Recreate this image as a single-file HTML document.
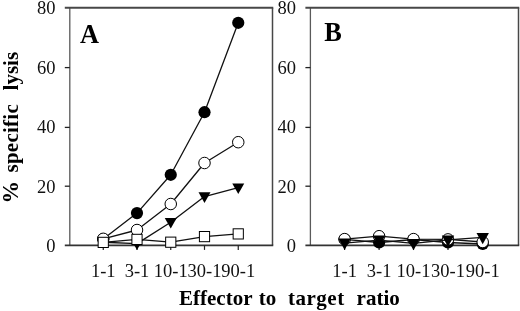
<!DOCTYPE html><html><head><meta charset="utf-8"><style>html,body{margin:0;padding:0;background:#fff;}svg{display:block;}</style></head><body>
<svg width="520" height="311" viewBox="0 0 520 311">
<rect width="520" height="311" fill="#fff"/>
<g fill="none">
<line x1="69.8" y1="7.7" x2="69.8" y2="245.3" stroke="#5a5a5a" stroke-width="1.3"/>
<line x1="272.5" y1="7.7" x2="272.5" y2="245.3" stroke="#474747" stroke-width="1.5"/>
<line x1="64.8" y1="7.7" x2="273.25" y2="7.7" stroke="#474747" stroke-width="1.9"/>
<line x1="64.8" y1="245.3" x2="273.25" y2="245.3" stroke="#333" stroke-width="1.7"/>
<line x1="64.8" y1="186.20" x2="69.8" y2="186.20" stroke="#222" stroke-width="1.3"/>
<line x1="64.8" y1="127.40" x2="69.8" y2="127.40" stroke="#222" stroke-width="1.3"/>
<line x1="64.8" y1="67.60" x2="69.8" y2="67.60" stroke="#222" stroke-width="1.3"/>
<line x1="103.25" y1="245.3" x2="103.25" y2="249.9" stroke="#222" stroke-width="1.2"/>
<line x1="137.00" y1="245.3" x2="137.00" y2="249.9" stroke="#222" stroke-width="1.2"/>
<line x1="170.75" y1="245.3" x2="170.75" y2="249.9" stroke="#222" stroke-width="1.2"/>
<line x1="204.50" y1="245.3" x2="204.50" y2="249.9" stroke="#222" stroke-width="1.2"/>
<line x1="238.25" y1="245.3" x2="238.25" y2="249.9" stroke="#222" stroke-width="1.2"/>
</g>
<g font-family='"Liberation Serif", "Times New Roman", serif' font-size="18.5" fill="#111" text-anchor="end">
<text x="55.6" y="251.50">0</text>
<text x="55.6" y="192.85">20</text>
<text x="55.6" y="133.45">40</text>
<text x="55.6" y="73.65">60</text>
<text x="55.6" y="13.85">80</text>
</g>
<g font-family='"Liberation Serif", "Times New Roman", serif' font-size="18.5" fill="#111" text-anchor="middle">
<text x="103.25" y="276.6">1-1</text>
<text x="137.00" y="276.6">3-1</text>
<text x="170.75" y="276.6">10-1</text>
<text x="204.50" y="276.6">30-1</text>
<text x="238.25" y="276.6">90-1</text>
</g>
<text x="80.0" y="42.9" font-family='"Liberation Serif", "Times New Roman", serif' font-weight="bold" font-size="26.3" fill="#000">A</text>
<polyline points="103.25,239.00 137.00,213.10 170.75,174.80 204.50,112.20 238.25,22.80" stroke="#111" stroke-width="1.3" fill="none" stroke-linejoin="round"/>
<circle cx="103.25" cy="239.00" r="6.1" fill="#000"/>
<circle cx="137.00" cy="213.10" r="6.1" fill="#000"/>
<circle cx="170.75" cy="174.80" r="6.1" fill="#000"/>
<circle cx="204.50" cy="112.20" r="6.1" fill="#000"/>
<circle cx="238.25" cy="22.80" r="6.1" fill="#000"/>
<polyline points="103.25,238.80 137.00,230.00 170.75,204.00 204.50,163.00 238.25,142.20" stroke="#111" stroke-width="1.3" fill="none" stroke-linejoin="round"/>
<circle cx="103.25" cy="238.80" r="5.75" fill="#fff" stroke="#000" stroke-width="1.0"/>
<circle cx="137.00" cy="230.00" r="5.75" fill="#fff" stroke="#000" stroke-width="1.0"/>
<circle cx="170.75" cy="204.00" r="5.75" fill="#fff" stroke="#000" stroke-width="1.0"/>
<circle cx="204.50" cy="163.00" r="5.75" fill="#fff" stroke="#000" stroke-width="1.0"/>
<circle cx="238.25" cy="142.20" r="5.75" fill="#fff" stroke="#000" stroke-width="1.0"/>
<polyline points="103.25,242.24 137.00,243.64 170.75,222.24 204.50,196.54 238.25,187.64" stroke="#111" stroke-width="1.3" fill="none" stroke-linejoin="round"/>
<polygon points="97.25,238.00 109.25,238.00 103.25,248.60" fill="#000"/>
<polygon points="131.00,239.40 143.00,239.40 137.00,250.00" fill="#000"/>
<polygon points="164.75,218.00 176.75,218.00 170.75,228.60" fill="#000"/>
<polygon points="198.50,192.30 210.50,192.30 204.50,202.90" fill="#000"/>
<polygon points="232.25,183.40 244.25,183.40 238.25,194.00" fill="#000"/>
<polyline points="103.25,242.40 137.00,239.40 170.75,242.20 204.50,236.60 238.25,233.90" stroke="#111" stroke-width="1.3" fill="none" stroke-linejoin="round"/>
<rect x="98.15" y="237.30" width="10.2" height="10.2" fill="#fff" stroke="#000" stroke-width="1.0"/>
<rect x="131.90" y="234.30" width="10.2" height="10.2" fill="#fff" stroke="#000" stroke-width="1.0"/>
<rect x="165.65" y="237.10" width="10.2" height="10.2" fill="#fff" stroke="#000" stroke-width="1.0"/>
<rect x="199.40" y="231.50" width="10.2" height="10.2" fill="#fff" stroke="#000" stroke-width="1.0"/>
<rect x="233.15" y="228.80" width="10.2" height="10.2" fill="#fff" stroke="#000" stroke-width="1.0"/>
<g fill="none">
<line x1="310.4" y1="7.7" x2="310.4" y2="245.3" stroke="#5a5a5a" stroke-width="1.3"/>
<line x1="518.5" y1="7.7" x2="518.5" y2="245.3" stroke="#474747" stroke-width="1.5"/>
<line x1="305.4" y1="7.7" x2="519.25" y2="7.7" stroke="#474747" stroke-width="1.9"/>
<line x1="305.4" y1="245.3" x2="519.25" y2="245.3" stroke="#333" stroke-width="1.7"/>
<line x1="305.4" y1="186.20" x2="310.4" y2="186.20" stroke="#222" stroke-width="1.3"/>
<line x1="305.4" y1="127.40" x2="310.4" y2="127.40" stroke="#222" stroke-width="1.3"/>
<line x1="305.4" y1="67.60" x2="310.4" y2="67.60" stroke="#222" stroke-width="1.3"/>
<line x1="344.60" y1="245.3" x2="344.60" y2="249.9" stroke="#222" stroke-width="1.2"/>
<line x1="379.10" y1="245.3" x2="379.10" y2="249.9" stroke="#222" stroke-width="1.2"/>
<line x1="413.50" y1="245.3" x2="413.50" y2="249.9" stroke="#222" stroke-width="1.2"/>
<line x1="448.00" y1="245.3" x2="448.00" y2="249.9" stroke="#222" stroke-width="1.2"/>
<line x1="482.70" y1="245.3" x2="482.70" y2="249.9" stroke="#222" stroke-width="1.2"/>
</g>
<g font-family='"Liberation Serif", "Times New Roman", serif' font-size="18.5" fill="#111" text-anchor="end">
<text x="296.0" y="251.50">0</text>
<text x="296.0" y="192.85">20</text>
<text x="296.0" y="133.45">40</text>
<text x="296.0" y="73.65">60</text>
<text x="296.0" y="13.85">80</text>
</g>
<g font-family='"Liberation Serif", "Times New Roman", serif' font-size="18.5" fill="#111" text-anchor="middle">
<text x="344.60" y="276.6">1-1</text>
<text x="379.10" y="276.6">3-1</text>
<text x="413.50" y="276.6">10-1</text>
<text x="448.00" y="276.6">30-1</text>
<text x="482.70" y="276.6">90-1</text>
</g>
<text x="324.2" y="40.6" font-family='"Liberation Serif", "Times New Roman", serif' font-weight="bold" font-size="26.3" fill="#000">B</text>
<polyline points="344.60,239.30 379.10,242.50 413.50,239.50 448.00,242.50 482.70,244.00" stroke="#111" stroke-width="1.3" fill="none" stroke-linejoin="round"/>
<circle cx="344.60" cy="239.30" r="6.1" fill="#000"/>
<circle cx="379.10" cy="242.50" r="6.1" fill="#000"/>
<circle cx="413.50" cy="239.50" r="6.1" fill="#000"/>
<circle cx="448.00" cy="242.50" r="6.1" fill="#000"/>
<circle cx="482.70" cy="244.00" r="6.1" fill="#000"/>
<polyline points="344.60,239.10 379.10,236.20 413.50,239.10 448.00,239.40 482.70,242.00" stroke="#111" stroke-width="1.3" fill="none" stroke-linejoin="round"/>
<circle cx="344.60" cy="239.10" r="5.75" fill="#fff" stroke="#000" stroke-width="1.0"/>
<circle cx="379.10" cy="236.20" r="5.75" fill="#fff" stroke="#000" stroke-width="1.0"/>
<circle cx="413.50" cy="239.10" r="5.75" fill="#fff" stroke="#000" stroke-width="1.0"/>
<circle cx="448.00" cy="239.40" r="5.75" fill="#fff" stroke="#000" stroke-width="1.0"/>
<circle cx="482.70" cy="242.00" r="5.75" fill="#fff" stroke="#000" stroke-width="1.0"/>
<polyline points="344.60,243.12 379.10,240.12 413.50,243.42 448.00,239.92 482.70,237.42" stroke="#111" stroke-width="1.3" fill="none" stroke-linejoin="round"/>
<polygon points="338.40,238.60 350.80,238.60 344.60,249.90" fill="#000"/>
<polygon points="372.90,235.60 385.30,235.60 379.10,246.90" fill="#000"/>
<polygon points="407.30,238.90 419.70,238.90 413.50,250.20" fill="#000"/>
<polygon points="441.80,235.40 454.20,235.40 448.00,246.70" fill="#000"/>
<polygon points="476.50,232.90 488.90,232.90 482.70,244.20" fill="#000"/>
<g font-family='"Liberation Serif", "Times New Roman", serif' font-weight="bold" font-size="21" fill="#000">
<text transform="translate(17.7,203.5) rotate(-90)" font-size="22.5">%</text>
<text transform="translate(17.7,172.5) rotate(-90)" letter-spacing="0.25">specific</text>
<text transform="translate(17.7,90.4) rotate(-90)">lysis</text>
<text x="179.0" y="305.0">Effector</text>
<text x="258.65" y="305.0">to</text>
<text x="288.0" y="305.0" letter-spacing="0.5">target</text>
<text x="356.6" y="305.0">ratio</text>
</g>
</svg></body></html>
